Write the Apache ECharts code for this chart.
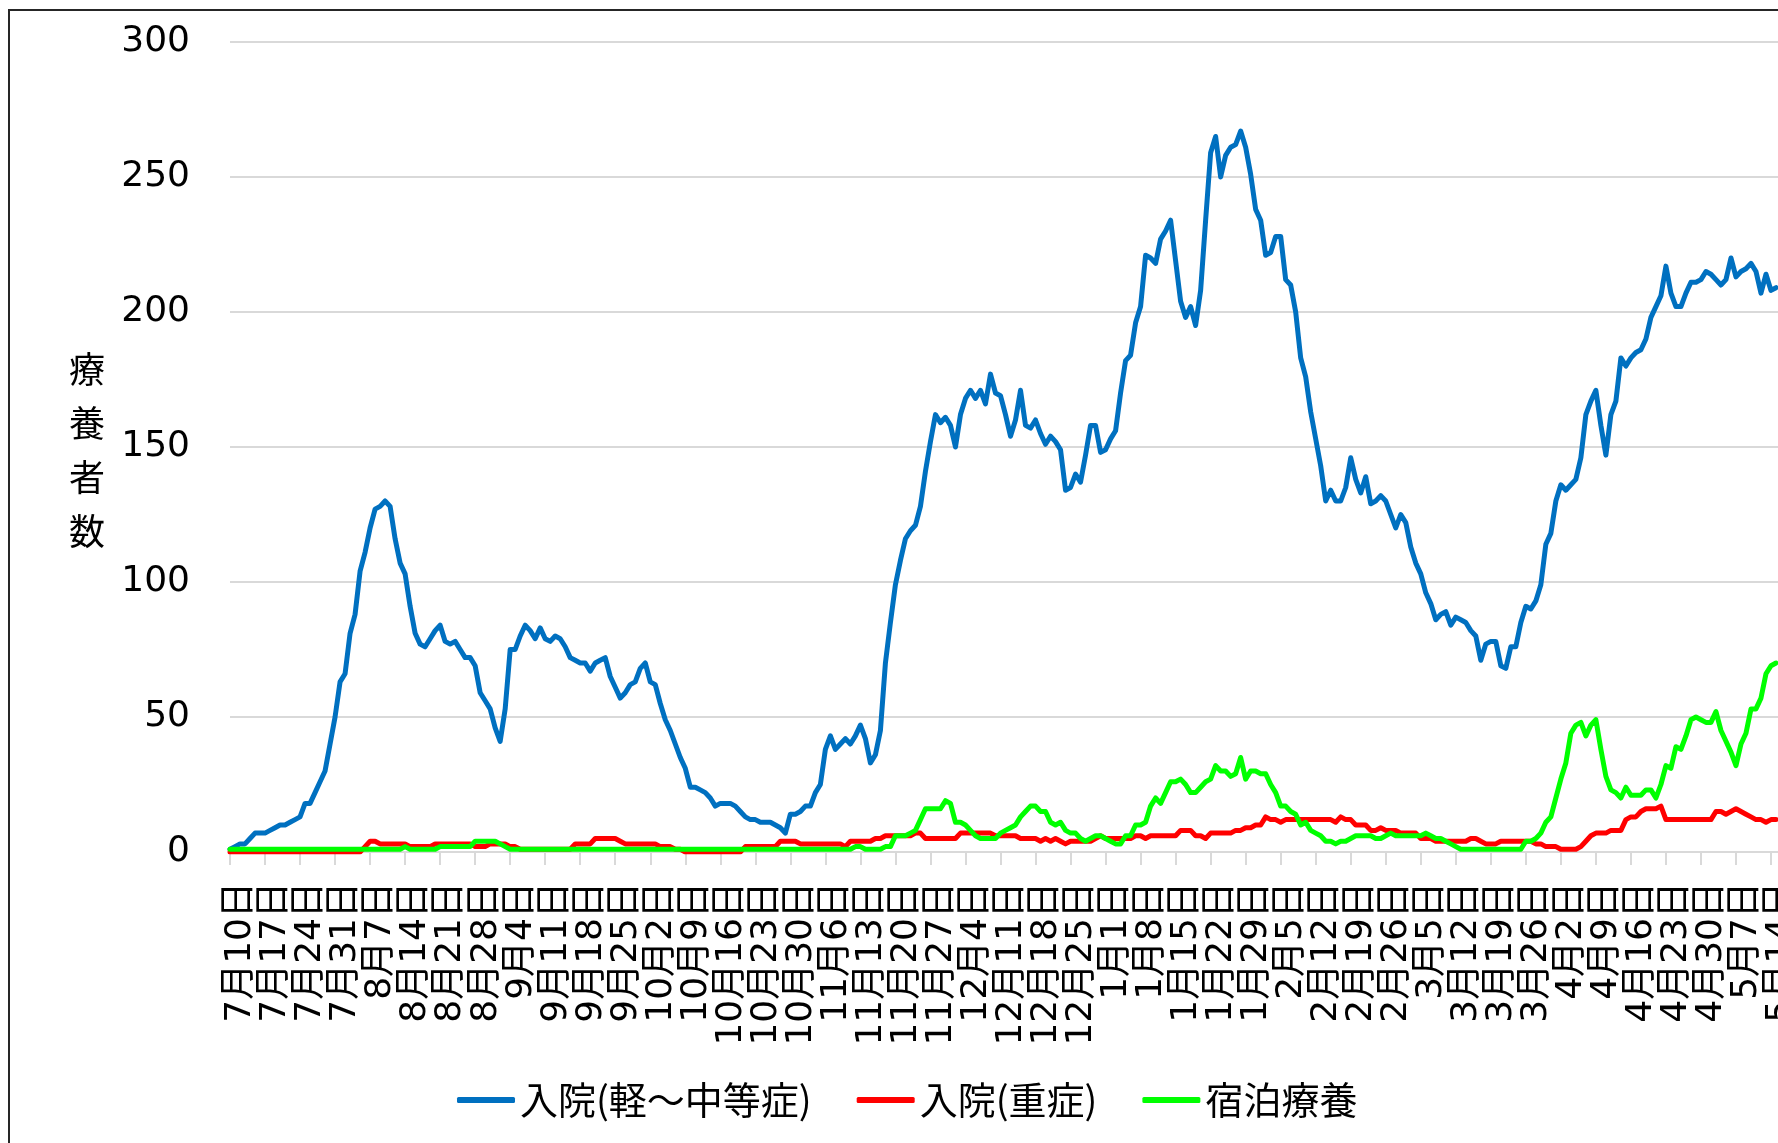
<!DOCTYPE html>
<html>
<head>
<meta charset="utf-8">
<script src="https://cdn.jsdelivr.net/npm/echarts@6/dist/echarts.min.js"></script>
<style>html,body{margin:0;padding:0;background:#fff}#c{width:1778px;height:1143px}</style>
</head>
<body>
<div id="c"></div>
<script>
// Category labels: daily from 7月10日 (one label every 7 days is shown)
const categories = [];
(function(){
  const start = Date.UTC(2020, 6, 10);
  for (let i = 0; i < 312; i++) {
    const d = new Date(start + i * 86400000);
    categories.push((d.getUTCMonth() + 1) + '月' + d.getUTCDate() + '日');
  }
})();
const labelStep = 7;

const seriesNames = ['入院(軽～中等症)', '入院(重症)', '宿泊療養'];
const yTicks = [0, 50, 100, 150, 200, 250, 300];

const hospitalMild = [
1,2,3,3,5,7,7,7,8,9,
10,10,11,12,13,18,18,22,26,30,
40,50,63,66,81,88,104,111,120,127,
128,130,128,116,107,103,91,81,77,76,
79,82,84,78,77,78,75,72,72,69,
59,56,53,46,41,53,75,75,80,84,
82,79,83,79,78,80,79,76,72,71,
70,70,67,70,71,72,65,61,57,59,
62,63,68,70,63,62,55,49,45,40,
35,31,24,24,23,22,20,17,18,18,
18,17,15,13,12,12,11,11,11,10,
9,7,14,14,15,17,17,22,25,38,
43,38,40,42,40,43,47,42,33,36,
45,70,85,99,108,116,119,121,128,141,
152,162,159,161,158,150,162,168,171,168,
171,166,177,170,169,162,154,160,171,158,
157,160,155,151,154,152,149,134,135,140,
137,147,158,158,148,149,153,156,170,182,
184,196,202,221,220,218,227,230,234,219,
204,198,202,195,208,234,259,265,250,258,
261,262,267,261,251,238,234,221,222,228,
228,212,210,200,183,176,163,153,143,130,
134,130,130,135,146,138,133,139,129,130,
132,130,125,120,125,122,113,107,103,96,
92,86,88,89,84,87,86,85,82,80,
71,77,78,78,69,68,76,76,85,91,
90,93,99,114,118,130,136,134,136,138,
146,162,167,171,158,147,162,167,183,180,
183,185,186,190,198,202,206,217,207,202,
202,207,211,211,212,215,214,212,210,212,
220,213,215,216,218,215,207,214,208,209
];

const hospitalSevere = [
0,0,0,0,0,0,0,0,0,0,
0,0,0,0,0,0,0,0,0,0,
0,0,0,0,0,0,0,2,4,4,
3,3,3,3,3,3,2,2,2,2,
2,3,3,3,3,3,3,3,3,2,
2,2,3,3,3,3,2,2,1,1,
1,1,1,1,1,1,1,1,1,3,
3,3,3,5,5,5,5,5,4,3,
3,3,3,3,3,3,2,2,2,1,
1,0,0,0,0,0,0,0,0,0,
0,0,0,2,2,2,2,2,2,2,
4,4,4,4,3,3,3,3,3,3,
3,3,3,2,4,4,4,4,4,5,
5,6,6,6,6,6,6,7,7,5,
5,5,5,5,5,5,7,7,7,7,
7,7,7,6,6,6,6,6,5,5,
5,5,4,5,4,5,4,3,4,4,
4,4,4,5,6,5,5,5,5,5,
5,6,6,5,6,6,6,6,6,6,
8,8,8,6,6,5,7,7,7,7,
7,8,8,9,9,10,10,13,12,12,
11,12,12,12,12,12,12,12,12,12,
12,11,13,12,12,10,10,10,8,8,
9,8,8,8,7,7,7,7,5,5,
5,4,4,4,4,4,4,4,5,5,
4,3,3,3,4,4,4,4,4,4,
4,3,3,2,2,2,1,1,1,1,
2,4,6,7,7,7,8,8,8,12,
13,13,15,16,16,16,17,12,12,12,
12,12,12,12,12,12,12,15,15,14,
15,16,15,14,13,12,12,11,12,12
];

const hotelCare = [
1,1,1,1,1,1,1,1,1,1,
1,1,1,1,1,1,1,1,1,1,
1,1,1,1,1,1,1,1,1,1,
1,1,1,1,1,2,1,1,1,1,
1,1,2,2,2,2,2,2,2,4,
4,4,4,4,3,2,1,1,1,1,
1,1,1,1,1,1,1,1,1,1,
1,1,1,1,1,1,1,1,1,1,
1,1,1,1,1,1,1,1,1,1,
1,1,1,1,1,1,1,1,1,1,
1,1,1,1,1,1,1,1,1,1,
1,1,1,1,1,1,1,1,1,1,
1,1,1,1,1,2,2,1,1,1,
1,2,2,6,6,6,7,8,12,16,
16,16,16,19,18,11,11,10,8,6,
5,5,5,5,7,8,9,10,13,15,
17,17,15,15,11,10,11,8,7,7,
5,4,5,6,6,5,4,3,3,6,
6,10,10,11,17,20,18,22,26,26,
27,25,22,22,24,26,27,32,30,30,
28,29,35,27,30,30,29,29,25,22,
17,17,15,14,10,11,8,7,6,4,
4,3,4,4,5,6,6,6,6,5,
5,6,7,6,6,6,6,6,6,7,
6,5,5,4,3,2,1,1,1,1,
1,1,1,1,1,1,1,1,1,4,
4,5,7,11,13,20,27,33,44,47,
48,43,47,49,38,28,23,22,20,24,
21,21,21,23,23,20,25,32,31,39,
38,43,49,50,49,48,48,52,45,41,
37,32,40,44,53,53,57,66,69,70
];

const colors = ['#0070C0', '#FF0000', '#00FF00'];
const latin = '"DejaVu Sans", "Noto Sans CJK JP", sans-serif';
const cjk = '"Noto Sans CJK JP", "DejaVu Sans", sans-serif';

const chart = echarts.init(document.getElementById('c'), null, {renderer: 'canvas', width: 1778, height: 1143});

function mk(name, data, color) {
  return {
    name: name, type: 'line', data: data, showSymbol: false, symbol: 'none',
    lineStyle: {width: 5, color: color, join: 'round', cap: 'round'},
    itemStyle: {color: color}, animation: false, emphasis: {disabled: true}
  };
}

chart.setOption({
  animation: false,
  backgroundColor: '#ffffff',
  grid: {left: 230, top: 42, bottom: 291, right: -8, containLabel: false, outerBoundsMode: 'none'},
  xAxis: {
    type: 'category', data: categories, boundaryGap: false,
    axisLine: {show: true, lineStyle: {color: '#d9d9d9', width: 2}},
    axisTick: {show: true, interval: labelStep - 1, length: 13, lineStyle: {color: '#d9d9d9', width: 2}},
    axisLabel: {interval: 0, rotate: 90, fontSize: 36, color: '#000', margin: 30,
      fontFamily: latin, verticalAlign: 'top', lineHeight: 22, hideOverlap: false,
      formatter: function (v, i) { return i % labelStep === 0 ? v : ''; }},
    splitLine: {show: false}
  },
  yAxis: {
    type: 'value', min: yTicks[0], max: yTicks[yTicks.length - 1], interval: 50,
    axisLine: {show: false}, axisTick: {show: false},
    axisLabel: {fontSize: 36, color: '#000', margin: 40, fontFamily: latin},
    splitLine: {lineStyle: {color: '#d9d9d9', width: 2}}
  },
  legend: {
    data: seriesNames, left: 457, top: 1080, padding: 0,
    itemWidth: 58, itemHeight: 6, itemGap: 45, icon: 'roundRect',
    textStyle: {fontSize: 38, fontFamily: cjk, color: '#000', lineHeight: 40}
  },
  graphic: [
    {type: 'rect', silent: true, z: 100,
      shape: {x: 9, y: 10, width: 3000, height: 3000},
      style: {fill: 'none', stroke: '#262626', lineWidth: 2}},
    {type: 'text', silent: true, x: 87, y: 450,
      style: {text: '療\n養\n者\n数', font: '36px ' + cjk, fill: '#000',
        align: 'center', verticalAlign: 'middle', textAlign: 'center', textVerticalAlign: 'middle', lineHeight: 54}}
  ],
  series: [
    mk(seriesNames[0], hospitalMild, colors[0]),
    mk(seriesNames[1], hospitalSevere, colors[1]),
    mk(seriesNames[2], hotelCare, colors[2])
  ]
});
</script>
</body>
</html>
